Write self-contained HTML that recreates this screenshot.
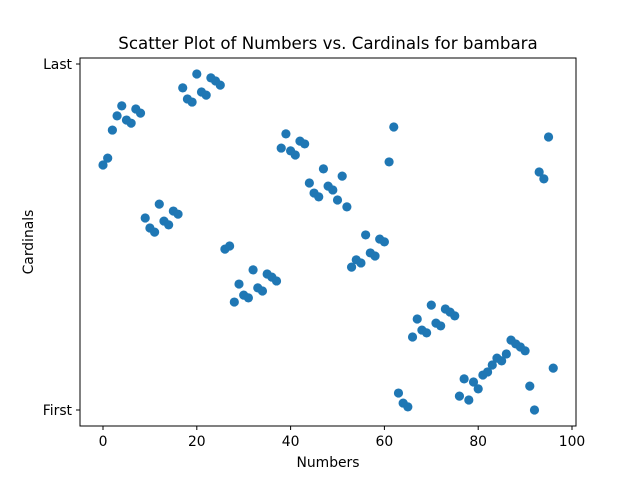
<!DOCTYPE html>
<html><head><meta charset="utf-8"><style>
body{margin:0;background:#fff;}
svg{display:block;font-family:"DejaVu Sans","Liberation Sans",sans-serif;}
</style></head><body>
<svg id="chart" width="640" height="480">
<rect width="640" height="480" fill="#fff"/>
<text x="328" y="49" text-anchor="middle" font-size="16.67">Scatter Plot of Numbers vs. Cardinals for bambara</text>
<g id="marks"></g>
<rect x="80" y="58" width="496" height="368" fill="none" stroke="#000" stroke-width="1"/>
<g id="xticks"></g>
<g id="yticks"></g>
<text x="328" y="467" text-anchor="middle" font-size="13.9">Numbers</text>
<text transform="translate(33,242) rotate(-90)" text-anchor="middle" font-size="13.9">Cardinals</text>
</svg>
<script>
const yValues = [70.8,72.8,80.9,85,87.9,83.8,82.9,87,85.8,
55.5,52.6,51.4,59.5,54.6,53.5,57.5,56.6,
93.1,89.9,89,97.1,91.9,91,96,95.1,93.9,
46.5,47.4,31.2,36.4,33.2,32.4,40.5,35.3,34.4,39.3,38.4,37.3,
75.7,79.8,74.9,73.7,77.7,76.9,65.6,62.7,61.6,69.7,64.7,63.6,60.7,67.6,58.7,
41.3,43.4,42.5,50.6,45.4,44.5,49.4,48.6,
71.7,81.8,
4.9,2,0.9,
21.1,26.3,23.1,22.3,30.3,25.1,24.3,29.2,28.3,27.2,
4,9,2.9,8.1,6.1,10.1,11,13,15,14.2,16.2,20.2,19.1,18.2,17.1,
6.9,0,68.8,66.8,78.9,12.1];
const xTickValues = [0,20,40,60,80,100];
const yTickLabels = ["First","Last"];
const yTickValues = [0,100];

const NS="http://www.w3.org/2000/svg";
function xs(v){return 103+v*4.69;}
function ys(v){return 410-v*3.46;}
function mk(tag,attrs,parent){const e=document.createElementNS(NS,tag);for(const k in attrs)e.setAttribute(k,attrs[k]);parent.appendChild(e);return e;}
const marks=document.getElementById('marks');
yValues.forEach((v,i)=>{
  const c=mk('circle',{cx:xs(i),cy:ys(v),r:4.6,fill:'#1f77b4'},marks);
  
  
});
const xt=document.getElementById('xticks');
xTickValues.forEach(v=>{
  const l=mk('line',{x1:xs(v),x2:xs(v),y1:426,y2:430,stroke:'#000'},xt);
  
  
  const t=mk('text',{x:xs(v),y:446,'text-anchor':'middle','font-size':'13.9'},xt);
  t.textContent=v;
  
  
});
const yt=document.getElementById('yticks');
yTickValues.forEach((v,i)=>{
  const l=mk('line',{x1:76,x2:80,y1:ys(v),y2:ys(v),stroke:'#000'},yt);
  
  
  const t=mk('text',{x:72,y:ys(v)+5,'text-anchor':'end','font-size':'13.9'},yt);
  t.textContent=yTickLabels[i];
  
  
});
</script>
</body></html>
